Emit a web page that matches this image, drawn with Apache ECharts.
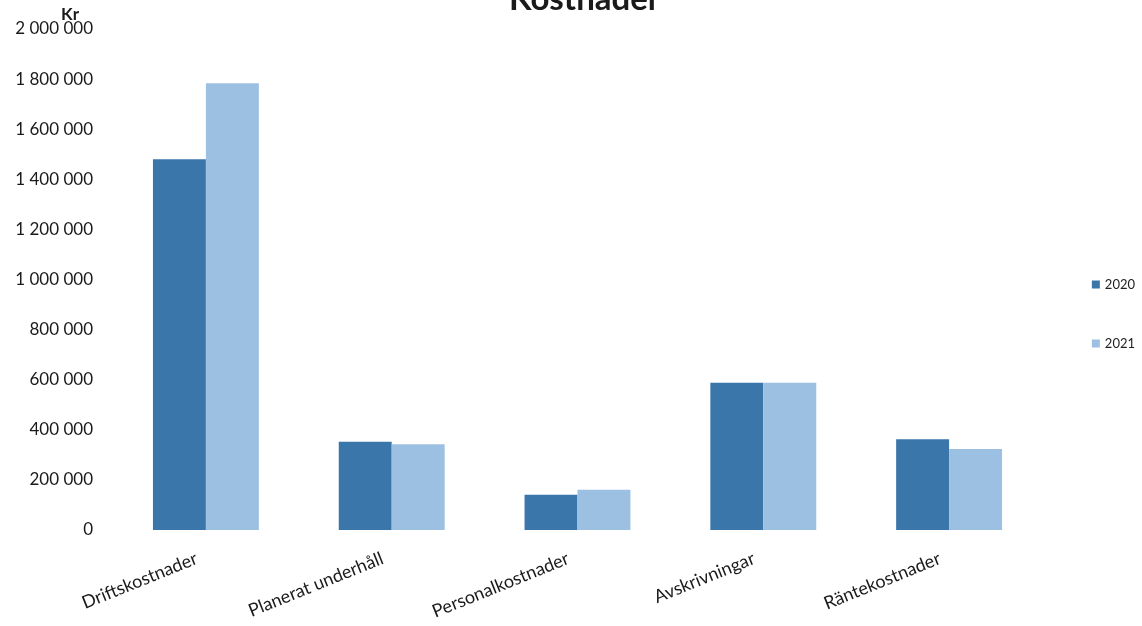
<!DOCTYPE html>
<html>
<head>
<meta charset="utf-8">
<script src="https://cdn.jsdelivr.net/npm/echarts@6/dist/echarts.min.js"></script>
<style>
  html, body { margin: 0; padding: 0; background: #fff; }
  #chart { width: 1142px; height: 626px; }
</style>
</head>
<body>
<div id="chart"></div>
<script>
// Kostnader per kategori, 2020 och 2021 (kr)
const categories = ['Driftskostnader', 'Planerat underhåll', 'Personalkostnader', 'Avskrivningar', 'Räntekostnader'];
const years = ['2020', '2021'];
const values2020 = [1480000, 352000, 141000, 588000, 362000];
const values2021 = [1783000, 342000, 161000, 588000, 323000];
const colors = ['#3b76ab', '#9cc0e2'];

const font = 'Lato, "Noto Sans", sans-serif';

// Swedish thousands grouping with spaces
function fmt(v) {
  return String(v).replace(/\B(?=(\d{3})+(?!\d))/g, ' ');
}

const chart = echarts.init(document.getElementById('chart'), null, { renderer: 'canvas' });

chart.setOption({
  backgroundColor: '#ffffff',
  animation: false,
  title: {
    text: 'Kostnader',
    left: 504,
    top: -22,
    textStyle: { fontFamily: font, fontSize: 33, fontWeight: 'bold', color: '#1a1a1a' }
  },
  graphic: [{
    type: 'text',
    left: 61,
    top: 6,
    style: { text: 'Kr', font: 'bold 17px ' + font, fill: '#1a1a1a' }
  }],
  legend: {
    data: years,
    orient: 'vertical',
    right: 2,
    top: 273,
    itemWidth: 8,
    itemHeight: 8,
    itemGap: 46,
    icon: 'rect',
    textStyle: { fontFamily: font, fontSize: 13, color: '#222' }
  },
  grid: { left: 113, right: 100, top: 29, bottom: 96, containLabel: false },
  xAxis: {
    type: 'category',
    data: categories,
    axisLine: { show: false },
    axisTick: { show: false },
    axisLabel: {
      rotate: 22,
      margin: 24,
      padding: [0, 10, 0, 0],
      interval: 0,
      fontFamily: font,
      fontSize: 18,
      color: '#1a1a1a'
    }
  },
  yAxis: {
    type: 'value',
    min: 0,
    max: 2000000,
    interval: 200000,
    splitLine: { show: false },
    axisLine: { show: false },
    axisTick: { show: false },
    axisLabel: {
      margin: 20,
      fontFamily: font,
      fontSize: 17,
      color: '#1a1a1a',
      formatter: fmt
    }
  },
  series: [
    {
      name: years[0],
      type: 'bar',
      data: values2020,
      itemStyle: { color: colors[0] },
      barGap: '0%',
      barCategoryGap: '43%'
    },
    {
      name: years[1],
      type: 'bar',
      data: values2021,
      itemStyle: { color: colors[1] },
      barGap: '0%',
      barCategoryGap: '43%'
    }
  ]
});
</script>
</body>
</html>
